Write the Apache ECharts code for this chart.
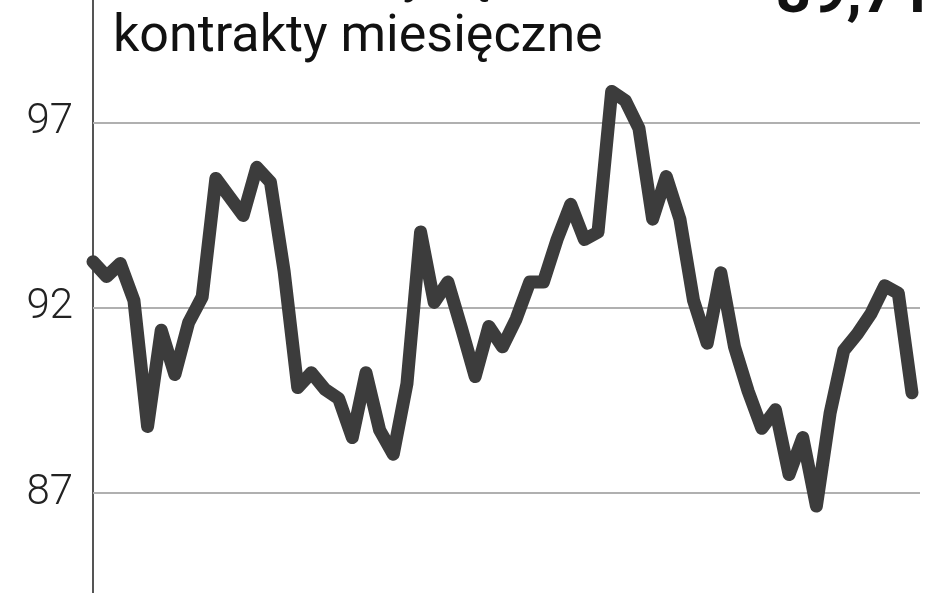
<!DOCTYPE html>
<html>
<head>
<meta charset="utf-8">
<script src="https://cdn.jsdelivr.net/npm/echarts@6/dist/echarts.min.js"></script>
<style>
html,body{margin:0;padding:0;background:#fff;}
#chart{width:948px;height:593px;}
</style>
</head>
<body>
<div id="chart"></div>
<script>
// monthly contract prices (index of month, value)
var months = [];
var prices = [
  93.25, 92.85, 93.2, 92.2, 88.8, 91.4, 90.2, 91.6, 92.3, 95.5,
  95.0, 94.5, 95.8, 95.4, 93.0, 89.85, 90.25, 89.8, 89.55, 88.5,
  90.25, 88.7, 88.05, 89.95, 94.05, 92.15, 92.7, 91.45, 90.15, 91.5,
  90.95, 91.7, 92.7, 92.7, 93.85, 94.8, 93.85, 94.05, 97.85, 97.6,
  96.85, 94.4, 95.55, 94.4, 92.2, 91.05, 92.95, 90.95, 89.75, 88.75,
  89.25, 87.5, 88.5, 86.65, 89.15, 90.85, 91.3, 91.85, 92.6, 92.4,
  89.71
];
for (var i = 0; i < prices.length; i++) months.push(i);
var yTicks = [87, 92, 97];
var titleText = "kontrakty miesięczne";
var topText = "Cena w USD za baryłkę";
var lastValueText = "89,71";

var chart = echarts.init(document.getElementById('chart'), null, {renderer: 'canvas'});
var FONT = "Roboto, 'Noto Sans', sans-serif";
chart.setOption({
  animation: false,
  backgroundColor: '#ffffff',
  grid: {left: 93, right: 28, top: 0, bottom: 0},
  xAxis: {
    type: 'value', min: 0, max: 60.59,
    show: false
  },
  yAxis: {
    type: 'value', min: 84.3, max: 100.32,
    axisLine: {show: true, lineStyle: {color: '#555555', width: 2}},
    axisTick: {show: false},
    splitLine: {show: false},
    axisLabel: {
      customValues: yTicks,
      margin: 20,
      fontSize: 42,
      fontWeight: 300,
      fontFamily: FONT,
      color: '#222222'
    }
  },
  series: [{
    type: 'line',
    data: months.map(function (m, i) { return [m, prices[i]]; }),
    symbol: 'none',
    clip: false,
    lineStyle: {color: '#3c3c3c', width: 13, cap: 'round', join: 'round'},
    z: 5,
    markLine: {
      silent: true,
      symbol: 'none',
      label: {show: false},
      lineStyle: {color: '#b0b0b0', width: 2, type: 'solid'},
      data: yTicks.map(function (v) { return {yAxis: v}; }),
      z: 1
    }
  }],
  graphic: [
    {
      type: 'text', left: 113, top: 12,
      style: {text: titleText, font: "400 52px " + FONT, fill: '#111111'}
    },
    {
      type: 'text', left: -35, top: -48,
      style: {text: topText, font: "400 52px " + FONT, fill: '#111111'}
    },
    {
      type: 'text', right: 15, top: -35,
      style: {text: lastValueText, font: "700 62px " + FONT, fill: '#111111'}
    }
  ]
});
</script>
</body>
</html>
